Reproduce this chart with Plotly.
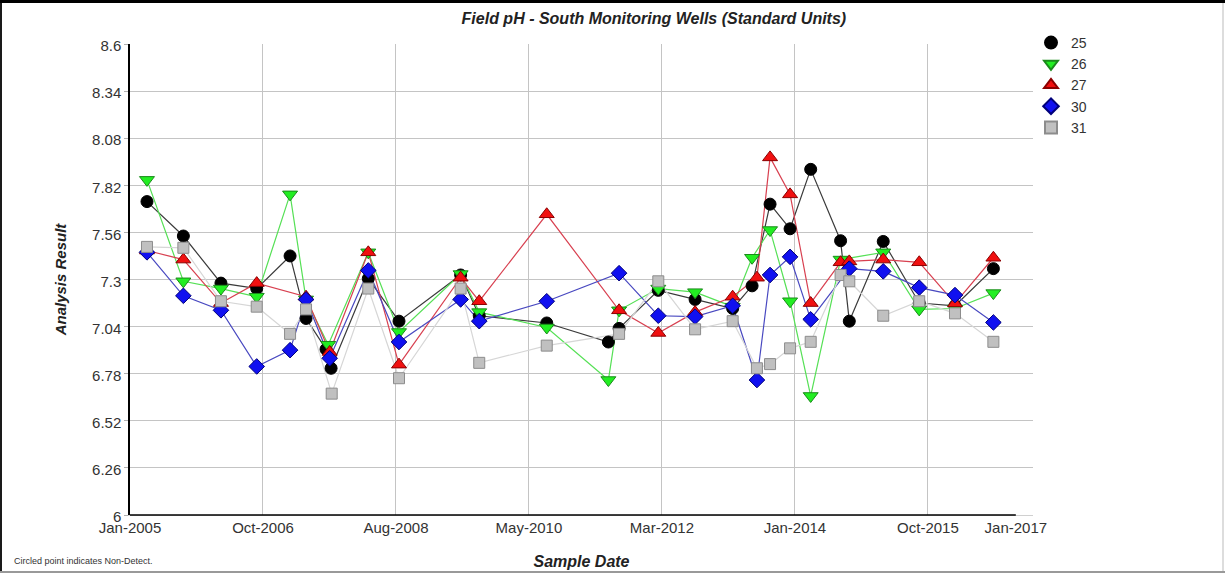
import plotly.graph_objects as go

# ---------------- data ----------------
w25_dates = ["2005-03-26", "2005-09-22", "2006-03-27", "2006-09-20", "2007-03-04", "2007-05-22",
             "2007-08-29", "2007-09-23", "2008-03-25", "2008-08-24", "2009-06-25", "2009-09-25",
             "2010-08-25", "2011-06-26", "2011-08-18", "2012-02-28", "2012-08-28", "2013-03-02",
             "2013-06-06", "2013-09-03", "2013-12-11", "2014-03-23", "2014-08-18", "2014-09-30",
             "2015-03-17", "2015-09-11", "2016-03-06", "2016-09-12"]
w25_vals = [7.73, 7.54, 7.28, 7.25, 7.43, 7.085,
            6.915, 6.81, 7.305, 7.07, 7.325, 7.10,
            7.06, 6.955, 7.03, 7.24, 7.19, 7.14,
            7.265, 7.716, 7.58, 7.908, 7.514, 7.07,
            7.51, 7.17, 7.155, 7.36]

w26_dates = ["2005-03-26", "2005-09-22", "2006-03-27", "2006-09-20", "2007-03-04", "2007-05-22",
             "2007-09-09", "2008-03-25", "2008-08-24", "2009-06-25", "2009-09-25", "2010-08-25",
             "2011-06-26", "2011-08-18", "2012-02-28", "2012-08-28", "2013-03-02", "2013-06-06",
             "2013-09-03", "2013-12-11", "2014-03-23", "2014-08-18", "2015-03-17", "2015-09-11",
             "2016-03-06", "2016-09-12"]
w26_vals = [7.85, 7.29, 7.25, 7.205, 7.77, 7.19,
            6.94, 7.45, 7.01, 7.33, 7.12, 7.035,
            6.745, 7.13, 7.25, 7.23, 7.15, 7.42,
            7.573, 7.18, 6.657, 7.41, 7.45, 7.135,
            7.14, 7.225]

w27_dates = ["2005-03-26", "2005-09-22", "2006-03-27", "2006-09-20", "2007-05-22", "2007-09-16",
             "2008-03-25", "2008-08-24", "2009-06-25", "2009-09-25", "2010-08-25", "2011-08-18",
             "2012-02-28", "2012-08-28", "2013-03-02", "2013-06-30", "2013-09-03", "2013-12-11",
             "2014-03-23", "2014-08-18", "2014-09-30", "2015-03-17", "2015-09-11", "2016-03-06",
             "2016-09-12"]
w27_vals = [7.46, 7.41, 7.17, 7.28, 7.205, 6.90,
            7.45, 6.83, 7.31, 7.18, 7.66, 7.13,
            7.005, 7.12, 7.205, 7.31, 7.974, 7.77,
            7.17, 7.395, 7.40, 7.41, 7.395, 7.168,
            7.42]

w30_dates = ["2005-03-26", "2005-09-22", "2006-03-27", "2006-09-20", "2007-03-04", "2007-05-22",
             "2007-09-16", "2008-03-25", "2008-08-24", "2009-06-25", "2009-09-25", "2010-08-25",
             "2011-08-18", "2012-02-28", "2012-08-28", "2013-03-02", "2013-06-30", "2013-09-03",
             "2013-12-11", "2014-03-23", "2014-09-30", "2015-03-17", "2015-09-11", "2016-03-06",
             "2016-09-12"]
w30_vals = [7.45, 7.21, 7.13, 6.82, 6.91, 7.19,
            6.865, 7.35, 6.955, 7.19, 7.07, 7.18,
            7.335, 7.10, 7.095, 7.155, 6.745, 7.325,
            7.425, 7.08, 7.36, 7.345, 7.255, 7.214,
            7.063]

w31_dates = ["2005-03-26", "2005-09-22", "2006-03-27", "2006-09-20", "2007-03-04", "2007-05-22",
             "2007-09-26", "2008-03-25", "2008-08-24", "2009-06-25", "2009-09-25", "2010-08-25",
             "2011-08-18", "2012-02-28", "2012-08-28", "2013-03-02", "2013-06-30", "2013-09-03",
             "2013-12-11", "2014-03-23", "2014-08-18", "2014-09-30", "2015-03-17", "2015-09-11",
             "2016-03-06", "2016-09-12"]
w31_vals = [7.48, 7.475, 7.18, 7.15, 7.00, 7.135,
            6.67, 7.25, 6.755, 7.25, 6.84, 6.935,
            7.00, 7.29, 7.025, 7.07, 6.81, 6.833,
            6.92, 6.956, 7.325, 7.29, 7.10, 7.18,
            7.113, 6.956]

series_names = ["25", "26", "27", "30", "31"]

x_tick_dates = ["2005-01-01", "2006-10-21", "2008-08-09", "2010-05-29", "2012-03-17",
                "2014-01-04", "2015-10-24", "2017-01-01"]
x_tick_labels = ["Jan-2005", "Oct-2006", "Aug-2008", "May-2010", "Mar-2012",
                 "Jan-2014", "Oct-2015", "Jan-2017"]
y_tick_vals = [6, 6.26, 6.52, 6.78, 7.04, 7.3, 7.56, 7.82, 8.08, 8.34, 8.6]
y_tick_labels = ["6", "6.26", "6.52", "6.78", "7.04", "7.3", "7.56", "7.82", "8.08", "8.34", "8.6"]

# ---------------- styling ----------------
FONT = "Liberation Sans, Arial, sans-serif"
styles = [
    dict(symbol="circle", size=12, color="#000000", line=dict(color="#000000", width=1), lc="#3a3a3a"),
    dict(symbol="triangle-down", size=13, color="#22ee22", line=dict(color="#1a8a1a", width=1), lc="#55e055"),
    dict(symbol="triangle-up", size=13, color="#f01010", line=dict(color="#8a0000", width=1), lc="#d84050"),
    dict(symbol="diamond", size=12, color="#1010f0", line=dict(color="#00007a", width=1), lc="#4848c0"),
    dict(symbol="square", size=11, color="#c0c0c0", line=dict(color="#8c8c8c", width=1), lc="#d6d6d6"),
]
data = [(w25_dates, w25_vals), (w26_dates, w26_vals), (w27_dates, w27_vals),
        (w30_dates, w30_vals), (w31_dates, w31_vals)]

fig = go.Figure()
# lines first
for (d, v), st in zip(data, styles):
    fig.add_trace(go.Scatter(x=d, y=v, mode="lines", line=dict(color=st["lc"], width=1.2),
                             showlegend=False, hoverinfo="skip"))
# markers on top
for name, (d, v), st in zip(series_names, data, styles):
    fig.add_trace(go.Scatter(x=d, y=v, mode="markers", name=name,
                             marker=dict(symbol=st["symbol"], size=st["size"], color=st["color"],
                                         line=st["line"])))

L, R, T, B = 130, 192, 44, 60
W, H = 1225, 575
pw, ph = W - L - R, H - T - B

def px(xp):
    return (xp - L) / pw

def py(yp):
    return (H - B - yp) / ph

shapes = [
    # x axis black line from first to last tick
    dict(type="line", xref="x", yref="paper", x0=x_tick_dates[0], x1=x_tick_dates[-1], y0=0, y1=0,
         line=dict(color="#000000", width=1.5), layer="above"),
    # outer frame
    dict(type="line", xref="paper", yref="paper", x0=px(1), x1=px(1), y0=py(1), y1=py(572),
         line=dict(color="#1a1a1a", width=2)),
    dict(type="line", xref="paper", yref="paper", x0=px(1223), x1=px(1223), y0=py(1), y1=py(572),
         line=dict(color="#bbbbbb", width=1)),
    dict(type="line", xref="paper", yref="paper", x0=px(0), x1=px(1225), y0=py(572), y1=py(572),
         line=dict(color="#999999", width=2)),
    dict(type="line", xref="paper", yref="paper", x0=px(0), x1=px(1225), y0=py(1.5), y1=py(1.5),
         line=dict(color="#000000", width=3)),
]

fig.update_layout(
    width=W, height=H,
    margin=dict(l=L, r=R, t=T, b=B, autoexpand=False),
    paper_bgcolor="white", plot_bgcolor="white",
    font=dict(family=FONT, size=15, color="#333333"),
    title=dict(text="<b><i>Field pH - South Monitoring Wells (Standard Units)</i></b>",
               x=px(612), xanchor="center", y=1 - 18 / H, yanchor="middle",
               font=dict(size=16, color="#222222")),
    legend=dict(x=px(1031), xanchor="left", y=py(27), yanchor="top",
                font=dict(size=14, color="#333333"), bgcolor="rgba(0,0,0,0)",
                itemsizing="constant", tracegroupgap=0),
    xaxis=dict(type="date", range=["2005-01-01", "2017-03-27"], automargin=False,
               tickmode="array", tickvals=x_tick_dates, ticktext=x_tick_labels,
               showgrid=False, showline=True, linecolor="#d0d0d0", linewidth=1,
               ticks="", zeroline=False, ticklabelstandoff=-1,
               minor=dict(tickmode="array", tickvals=x_tick_dates[1:-1], showgrid=True,
                          gridcolor="#c4c4c4", gridwidth=1, ticks=""),
               title=dict(text="<b><i>Sample Date</i></b>", font=dict(size=16, color="#222222"),
                          standoff=20),
               tickfont=dict(size=15, color="#333333")),
    yaxis=dict(range=[6, 8.6], tickmode="array", tickvals=y_tick_vals, ticktext=y_tick_labels,
               automargin=False, ticklabelshift=2,
               showgrid=True, gridcolor="#c4c4c4", gridwidth=1,
               showline=True, linecolor="#000000", linewidth=1.5,
               ticks="outside", ticklen=4, tickcolor="#b0b0b0", zeroline=False,
               title=dict(text="<b><i>Analysis Result</i></b>", font=dict(size=15, color="#222222"),
                          standoff=22),
               tickfont=dict(size=15, color="#333333")),
    shapes=shapes,
    annotations=[
        dict(text="Circled point indicates Non-Detect.", xref="paper", yref="paper",
             x=px(12), y=py(561), xanchor="left", yanchor="middle", showarrow=False,
             font=dict(size=9, color="#333333")),
    ],
)

fig.write_html("out.html", config={"displayModeBar": False},
               post_script="document.body.style.margin='0px';")
